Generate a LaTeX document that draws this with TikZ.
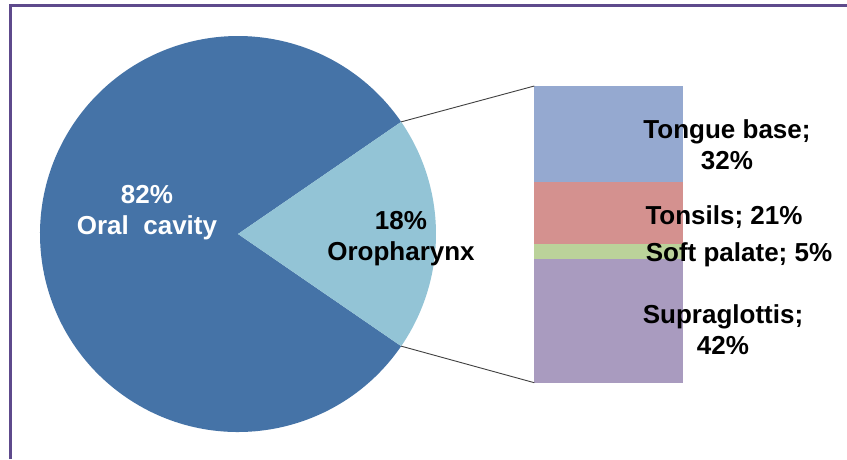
\documentclass[tikz,border=0pt]{standalone}
\usepackage{fontspec}
\setmainfont{Liberation Sans}
\usetikzlibrary{calc}
\definecolor{piedark}{HTML}{4573A7}
\definecolor{pielight}{HTML}{93C4D6}
\definecolor{tbcol}{HTML}{95A9D0}
\definecolor{tocol}{HTML}{D4918F}
\definecolor{spcol}{HTML}{BBD29A}
\definecolor{sgcol}{HTML}{A99BBF}
\definecolor{framecol}{HTML}{5E4A8C}
\begin{document}
\begin{tikzpicture}[x=1pt,y=-1pt,
  lbl/.style={font=\bfseries\fontsize{26}{30.5}\selectfont, align=center, anchor=base, inner sep=0pt},
  conn/.style={draw=black!75, line width=0.9pt}]
\useasboundingbox (0,0) rectangle (847,459);
\fill[white] (0,0) rectangle (847,459);
% frame
\draw[framecol, line width=2.5pt] (10.5,459) -- (10.5,5.3) -- (847,5.3);
% pie
\coordinate (c) at (238,234);
\fill[piedark] (c) -- ++(34.5:198) arc[start angle=34.5, end angle=325.5, radius=198] -- cycle;
\fill[pielight] (c) -- ++(-34.5:198) arc[start angle=-34.5, end angle=34.5, radius=198] -- cycle;
\coordinate (pup) at ($(c)+(-34.5:198)$);
\coordinate (plo) at ($(c)+(34.5:198)$);
% bar
\fill[tbcol] (534.3,86) rectangle (683.3,182.3);
\fill[tocol] (534.3,182.3) rectangle (683.3,243.7);
\fill[spcol] (534.3,243.7) rectangle (683.3,258.7);
\fill[sgcol] (534.3,258.7) rectangle (683.3,382.7);
\coordinate (btl) at (534.3,86);
\coordinate (bbl) at (534.3,382.7);
\draw[conn] (pup) -- (btl);
\draw[conn] (plo) -- (bbl);
% labels (base = baseline of last line)
\node[lbl, text=white] (oral) at (147,234) {82\%\\Oral\ \ cavity};
\node[lbl] (oro) at (401,260) {18\%\\Oropharynx};
\node[lbl] (tb) at (727,169) {Tongue base;\\32\%};
\node[lbl] (to) at (724,224) {Tonsils; 21\%};
\node[lbl] (sp) at (739,261.7) {Soft palate; 5\%};
\node[lbl] (sg) at (723,354) {Supraglottis;\\42\%};
\end{tikzpicture}
\end{document}
